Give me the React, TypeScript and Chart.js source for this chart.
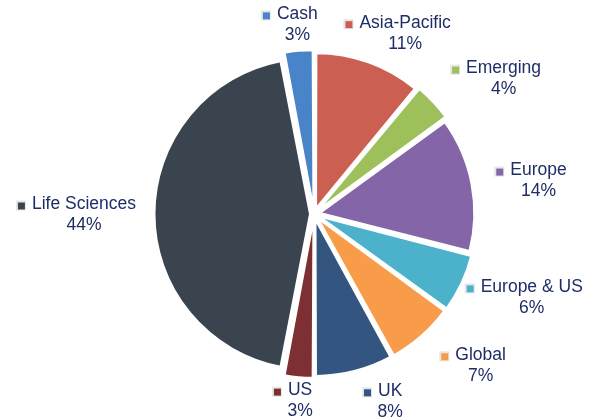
import React, { useEffect, useRef } from 'react';
import { Chart, registerables } from 'chart.js';

Chart.register(...registerables);

const categories = ['Asia-Pacific', 'Emerging', 'Europe', 'Europe & US', 'Global', 'UK', 'US', 'Life Sciences', 'Cash'];
const shares = [11, 4, 14, 6, 7, 8, 3, 44, 3];
const pctLabels = ['11%', '4%', '14%', '6%', '7%', '8%', '3%', '44%', '3%'];
const colors = ['#CB5F52', '#9DC05B', '#8466A8', '#4CB2CB', '#F89C4A', '#34557F', '#7E2F31', '#39444E', '#4A84C8'];
const explode = [24, 24, 24, 24, 24, 24, 24, 16, 24];
const labelNudge = [[6, 5], [21, 0], [9, 4], [-2, 0], [21, 4], [20, -3], [-3, -9], [-2, 1], [-5, 7]];

const FONT = '17.5px "Liberation Sans", Arial, sans-serif';
const TEXT_COLOR = '#1F2D66';

const labelPlugin = {
  id: 'outerLabels',
  afterDatasetsDraw(chart: any) {
    const ctx = chart.ctx as CanvasRenderingContext2D;
    const meta = chart.getDatasetMeta(0);
    ctx.save();
    ctx.font = FONT;
    meta.data.forEach((arc: any, i: number) => {
      const p = arc.getProps(['x', 'y', 'startAngle', 'endAngle', 'outerRadius'], true);
      const mid = (p.startAngle + p.endAngle) / 2;
      const dx = Math.cos(mid);
      const dy = Math.sin(mid);
      const D = p.outerRadius + 23;
      const nameW = ctx.measureText(categories[i]).width;
      const w = 15 + nameW;
      const h = 42;
      const bx = p.x + D * dx + (dx * w) / 2;
      const by = p.y + D * dy + (dy * h) / 2;
      const cx = bx + 7.5 + labelNudge[i][0];
      const ly = by - 10.5 + labelNudge[i][1];
      // marker
      const mx = cx - nameW / 2 - 7 - 8;
      const my = ly + 1 - 4;
      ctx.fillStyle = '#e6e6e6';
      ctx.fillRect(mx - 1, my - 1, 10, 10);
      ctx.fillStyle = colors[i];
      ctx.fillRect(mx + 1, my + 1, 7, 7);
      // text
      ctx.fillStyle = TEXT_COLOR;
      ctx.textAlign = 'center';
      ctx.textBaseline = 'middle';
      ctx.fillText(categories[i], cx, ly);
      ctx.fillText(pctLabels[i], cx, ly + 21);
    });
    ctx.restore();
  },
};

export default function App() {
  const canvasRef = useRef<HTMLCanvasElement | null>(null);

  useEffect(() => {
    const canvas = canvasRef.current;
    if (!canvas) return;
    const chart = new Chart(canvas, {
      type: 'pie',
      data: {
        labels: categories,
        datasets: [
          {
            data: shares,
            backgroundColor: colors,
            borderColor: '#ffffff',
            borderWidth: 2,
            offset: explode,
          } as any,
        ],
      },
      options: {
        responsive: false,
        animation: false,
        devicePixelRatio: 1,
        radius: 153,
        layout: { padding: { left: 36, top: 10, right: 0, bottom: 0 } },
        plugins: {
          legend: { display: false },
          tooltip: { enabled: false },
        },
      } as any,
      plugins: [labelPlugin],
    });
    return () => chart.destroy();
  }, []);

  return (
    <div style={{ position: 'absolute', left: 0, top: 0, width: 592, height: 418, background: '#ffffff' }}>
      <canvas ref={canvasRef} width={592} height={418} style={{ display: 'block' }} />
    </div>
  );
}
